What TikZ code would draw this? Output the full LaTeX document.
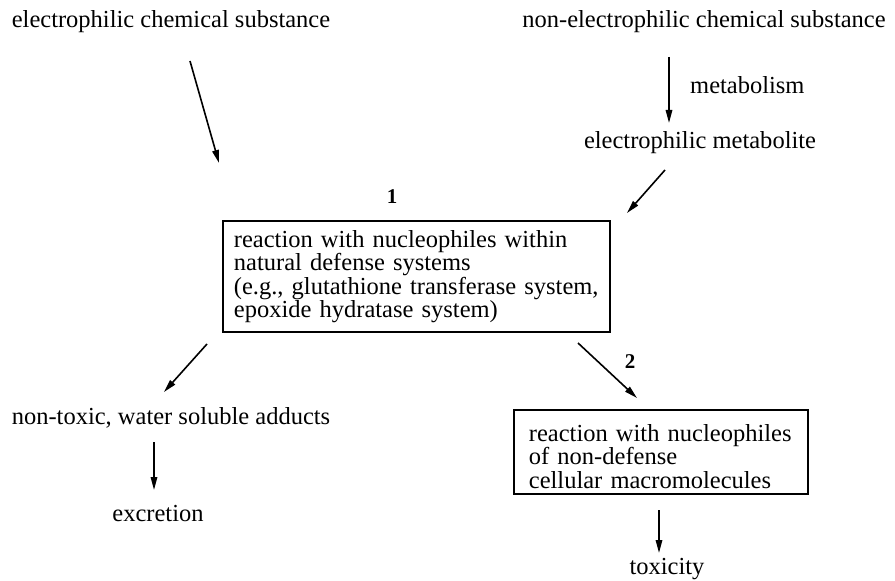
\documentclass[tikz,border=0pt]{standalone}
\usepackage{fontspec}
\setmainfont{Liberation Serif}
\usetikzlibrary{arrows.meta}
\hyphenpenalty=10000
\exhyphenpenalty=10000
\begin{document}
\begin{tikzpicture}[x=1bp,y=-1bp,
  every node/.style={font=\fontsize{24.5bp}{23.5bp}\selectfont, inner sep=0pt},
  lbl/.style={anchor=center},
  boxnode/.style={draw, line width=1.8bp, align=left, anchor=north west, inner xsep=11bp},
  arr/.style={line width=1.6bp, -{Triangle[length=13bp,width=6.5bp]}},
  num/.style={font=\fontsize{21bp}{22bp}\selectfont\bfseries}]
\useasboundingbox (0,0) rectangle (895,581);
\node[lbl] (ecs) at (171,22) {electrophilic chemical substance};
\node[lbl] (necs) at (704,22) {non-electrophilic chemical substance};
\node[lbl, anchor=west] (metab) at (690,85) {metabolism};
\node[lbl] (em) at (700,143) {electrophilic metabolite};
\node[num] (n1) at (392,197) {1};
\node[boxnode, text width=365bp, minimum height=111bp, inner ysep=6bp] (box1) at (222,220)
  {reaction with nucleophiles within\\natural defense systems\\(e.g., glutathione transferase system,\\epoxide hydratase system)};
\node[num] (n2) at (630,362) {2};
\node[lbl] (adducts) at (171,418) {non-toxic, water soluble adducts};
\node[lbl] (excr) at (158,514) {excretion};
\node[boxnode, text width=264bp, minimum height=84bp, inner xsep=15bp, inner ysep=4bp] (box2) at (513,409)
  {\rule{0pt}{26bp}reaction with nucleophiles\\of non-defense\\cellular macromolecules};
\node[lbl] (tox) at (667,569) {toxicity};

\coordinate (a1s) at (190,61);  \coordinate (a1e) at (219,163);
\coordinate (a2s) at (669,57);  \coordinate (a2e) at (669,123);
\coordinate (a3s) at (665,170); \coordinate (a3e) at (627,213);
\coordinate (a4s) at (207,344); \coordinate (a4e) at (164,392);
\coordinate (a5s) at (578,343); \coordinate (a5e) at (637,398);
\coordinate (a6s) at (154,442); \coordinate (a6e) at (154,490);
\coordinate (a7s) at (659,510); \coordinate (a7e) at (659,553);
\draw[arr] (a1s) -- (a1e);
\draw[arr] (a2s) -- (a2e);
\draw[arr] (a3s) -- (a3e);
\draw[arr] (a4s) -- (a4e);
\draw[arr] (a5s) -- (a5e);
\draw[arr] (a6s) -- (a6e);
\draw[arr] (a7s) -- (a7e);
\end{tikzpicture}
\end{document}
